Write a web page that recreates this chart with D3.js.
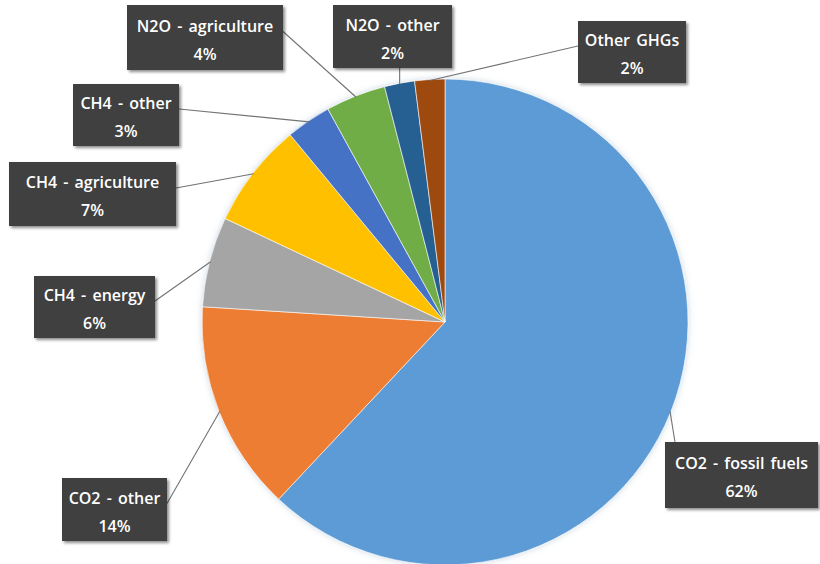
<!DOCTYPE html>
<html>
<head>
<meta charset="utf-8">
<script src="https://cdn.jsdelivr.net/npm/d3@7"></script>
<style>
  html, body { margin: 0; padding: 0; background: #ffffff; }
  svg { display: block; }
</style>
</head>
<body>
<svg id="chart" width="820" height="564"></svg>
<script>
// Global greenhouse gas emissions by gas and source (share of total, %)
const categories = [
  "CO2 - fossil fuels",
  "CO2 - other",
  "CH4 - energy",
  "CH4 - agriculture",
  "CH4 - other",
  "N2O - agriculture",
  "N2O - other",
  "Other GHGs"
];
const shares = [62, 14, 6, 7, 3, 4, 2, 2];
const sliceColors = ["#5b9bd5", "#ed7d31", "#a5a5a5", "#ffc000", "#4472c4", "#70ad47", "#255e91", "#9e480e"];

// Hand-placed data label boxes (left, top, width, height) and the side the leader line attaches to
const labelLayout = [
  { x: 665, y: 442, w: 153, h: 66, side: "top" },
  { x: 62,  y: 478, w: 105, h: 63, side: "right" },
  { x: 34,  y: 276, w: 121, h: 62, side: "right" },
  { x: 9,   y: 162, w: 167, h: 64, side: "right" },
  { x: 73,  y: 84,  w: 106, h: 62, side: "right" },
  { x: 127, y: 5,   w: 156, h: 65, side: "right" },
  { x: 333, y: 5,   w: 119, h: 63, side: "bottom" },
  { x: 578, y: 21,  w: 108, h: 62, side: "left" }
];

const svg = d3.select("#chart");
const cx = 445, cy = 322, radius = 243;

const defs = svg.append("defs");
const pieShadow = defs.append("filter").attr("id", "pieGlow")
  .attr("x", "-10%").attr("y", "-10%").attr("width", "120%").attr("height", "120%");
pieShadow.append("feDropShadow")
  .attr("dx", 0).attr("dy", 0).attr("stdDeviation", 3)
  .attr("flood-color", "#6c8fb0").attr("flood-opacity", 0.35);

const boxShadow = defs.append("filter").attr("id", "boxShadow")
  .attr("x", "-10%").attr("y", "-20%").attr("width", "130%").attr("height", "150%");
boxShadow.append("feDropShadow")
  .attr("dx", 2).attr("dy", 2).attr("stdDeviation", 1.5)
  .attr("flood-color", "#000").attr("flood-opacity", 0.45);

const data = categories.map((name, i) => ({ name, value: shares[i], color: sliceColors[i] }));

const pie = d3.pie().value(d => d.value).sort(null);
const arcs = pie(data);
const arc = d3.arc().innerRadius(0).outerRadius(radius);
const edgeArc = d3.arc().innerRadius(radius - 1).outerRadius(radius - 1);

const g = svg.append("g").attr("transform", `translate(${cx},${cy})`);

g.append("g").attr("filter", "url(#pieGlow)")
  .selectAll("path")
  .data(arcs)
  .join("path")
  .attr("d", arc)
  .attr("fill", d => d.data.color)
  .attr("stroke", "#ffffff")
  .attr("stroke-width", 0.6);

const fontFamily = "'Open Sans', 'Noto Sans', sans-serif";
const styleText = sel => sel
  .attr("font-family", fontFamily).attr("font-size", 16)
  .attr("font-weight", 600).attr("word-spacing", 2)
  .attr("text-anchor", "middle").attr("fill", "#ffffff");

const boxes = arcs.map((a, i) => {
  const L = labelLayout[i];
  return { a, L, x0: L.x, x1: L.x + L.w, y0: L.y, y1: L.y + L.h, mx: L.x + L.w / 2, my: L.y + L.h / 2 };
});

// Leader lines from the slice edge to its label box
const lines = svg.append("g");
boxes.forEach(b => {
  const [ex, ey] = edgeArc.centroid(b.a);
  const px = cx + ex, py = cy + ey;
  let tx, ty;
  if (b.L.side === "right") { tx = b.x1; ty = b.my - 6; }
  else if (b.L.side === "left") { tx = b.x0; ty = b.my - 6; }
  else if (b.L.side === "bottom") { tx = px; ty = b.y1; }
  else { tx = b.x0 + 10; ty = b.y0; }
  lines.append("line")
    .attr("x1", px).attr("y1", py).attr("x2", tx).attr("y2", ty)
    .attr("stroke", "#737373").attr("stroke-width", 1.1);
});

// Label boxes
const labels = svg.append("g");
boxes.forEach(b => {
  const lg = labels.append("g");
  lg.append("rect")
    .attr("x", b.x0).attr("y", b.y0)
    .attr("width", b.L.w).attr("height", b.L.h)
    .attr("fill", "#404040")
    .attr("filter", "url(#boxShadow)");
  lg.append("text").call(styleText)
    .attr("x", b.mx).attr("y", b.my - 6)
    .text(b.a.data.name);
  lg.append("text").call(styleText)
    .attr("x", b.mx).attr("y", b.my + 22)
    .text(b.a.data.value + "%");
});
</script>
</body>
</html>
